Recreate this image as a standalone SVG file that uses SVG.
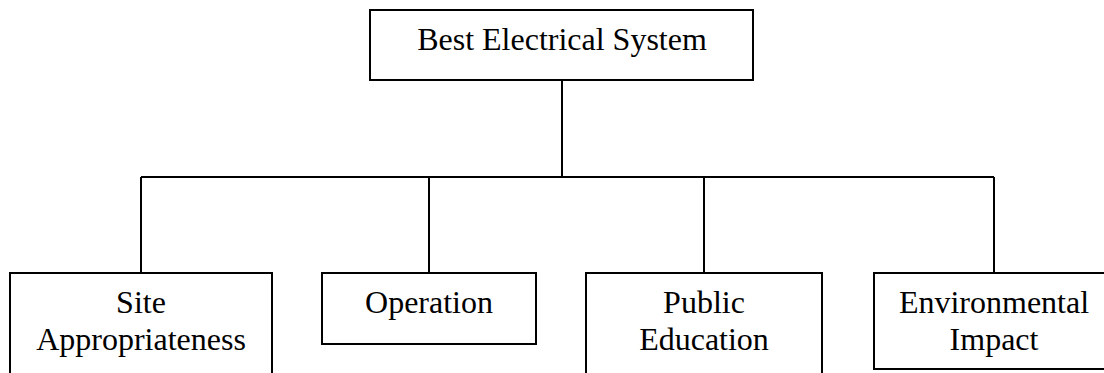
<svg xmlns="http://www.w3.org/2000/svg" width="1104" height="373" viewBox="0 0 1104 373">
<style>
.box{fill:#fff;stroke:#000;stroke-width:2}
.conn{fill:none;stroke:#000;stroke-width:2}
text{font-family:"Liberation Serif","Times New Roman",serif;font-size:32px;fill:#000;text-anchor:middle}
</style>
<rect width="1104" height="373" fill="#fff"/>
<g id="connectors">
<path class="conn" d="M562 81V177M141 177H994M141 177V273M429 177V273M704 177V273M994 177V273"/>
</g>
<g id="root">
<rect class="box" x="370" y="10" width="383" height="70"/>
<text x="562" y="50">Best Electrical System</text>
</g>
<g id="site">
<rect class="box" x="10" y="273" width="262" height="110"/>
<text x="141" y="313">Site</text>
<text x="141" y="350">Appropriateness</text>
</g>
<g id="operation">
<rect class="box" x="322" y="273" width="214" height="71"/>
<text x="429" y="313">Operation</text>
</g>
<g id="public">
<rect class="box" x="586" y="273" width="236" height="110"/>
<text x="704" y="313">Public</text>
<text x="704" y="350">Education</text>
</g>
<g id="environmental">
<rect class="box" x="874" y="273" width="240" height="96"/>
<text x="994" y="313">Environmental</text>
<text x="994" y="350">Impact</text>
</g>
</svg>
